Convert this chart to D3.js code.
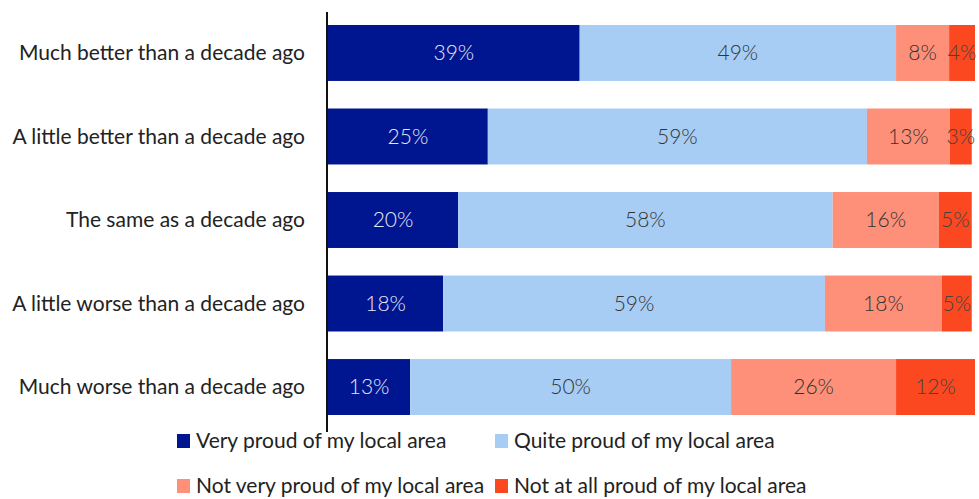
<!DOCTYPE html>
<html>
<head>
<meta charset="utf-8">
<script src="https://cdn.jsdelivr.net/npm/d3@7"></script>
<style>
  body { margin: 0; background: #fff; }
  svg { display: block; font-family: Lato, "Open Sans", sans-serif; }
</style>
</head>
<body>
<svg id="chart" width="979" height="499"></svg>
<script>
// Data
const categories = [
    'Much better than a decade ago',
    'A little better than a decade ago',
    'The same as a decade ago',
    'A little worse than a decade ago',
    'Much worse than a decade ago'
];
const seriesNames = [
    'Very proud of my local area',
    'Quite proud of my local area',
    'Not very proud of my local area',
    'Not at all proud of my local area'
];
const veryProud = [38.9, 24.7, 20.1, 17.8, 12.7];
const quiteProud = [48.9, 58.6, 57.9, 59.0, 49.6];
const notVeryProud = [8.2, 12.8, 16.4, 18.1, 25.5];
const notAtAllProud = [4.0, 3.4, 5.1, 4.6, 12.2];

const colors = ['#001690', '#a8cdf5', '#fe9079', '#fc4820'];
const textColors = ['#e4e6f5', '#333', '#333', '#444'];

const svg = d3.select('#chart');

const rows = categories.map((c, i) => ({
    category: c,
    s0: veryProud[i], s1: quiteProud[i], s2: notVeryProud[i], s3: notAtAllProud[i]
}));
const keys = ['s0', 's1', 's2', 's3'];
const stacked = d3.stack().keys(keys)(rows);

const x = d3.scaleLinear().domain([0, 100]).range([328, 975]);
const y = d3.scaleBand().domain(categories).range([25, 415]).paddingInner(0.33).paddingOuter(0);

// Bars
const layer = svg.append('g').selectAll('g')
    .data(stacked)
    .enter().append('g')
    .attr('fill', (d, i) => colors[i]);

layer.selectAll('rect')
    .data(d => d)
    .enter().append('rect')
    .attr('x', d => x(d[0]))
    .attr('y', d => y(d.data.category))
    .attr('width', d => x(d[1]) - x(d[0]))
    .attr('height', y.bandwidth());

// Value labels
stacked.forEach((s, si) => {
    svg.append('g').selectAll('text')
        .data(s)
        .enter().append('text')
        .attr('x', d => (x(d[0]) + x(d[1])) / 2)
        .attr('y', d => y(d.data.category) + y.bandwidth() / 2)
        .attr('dy', '0.35em')
        .attr('text-anchor', 'middle')
        .attr('font-size', '21px')
        .attr('font-weight', 300)
        .attr('fill', textColors[si])
        .text(d => Math.round(d[1] - d[0]) + '%');
});

// Category labels
svg.append('g').selectAll('text')
    .data(categories)
    .enter().append('text')
    .attr('x', 305)
    .attr('y', d => y(d) + y.bandwidth() / 2)
    .attr('dy', '0.35em')
    .attr('text-anchor', 'end')
    .attr('font-size', '21px')
    .attr('fill', '#222')
    .text(d => d);

// Axis line
svg.append('line')
    .attr('x1', 327).attr('x2', 327)
    .attr('y1', 12).attr('y2', 432)
    .attr('stroke', '#111')
    .attr('stroke-width', 2);

// Legend
const legendPos = [[177, 441], [495, 441], [177, 486], [495, 486]];
const legend = svg.append('g').selectAll('g')
    .data(seriesNames)
    .enter().append('g')
    .attr('transform', (d, i) => `translate(${legendPos[i][0]},${legendPos[i][1]})`);

legend.append('rect')
    .attr('x', 0).attr('y', -7)
    .attr('width', 13).attr('height', 14)
    .attr('fill', (d, i) => colors[i]);

legend.append('text')
    .attr('x', 19)
    .attr('dy', '0.35em')
    .attr('font-size', '21px')
    .attr('fill', '#222')
    .text(d => d);
</script>
</body>
</html>
